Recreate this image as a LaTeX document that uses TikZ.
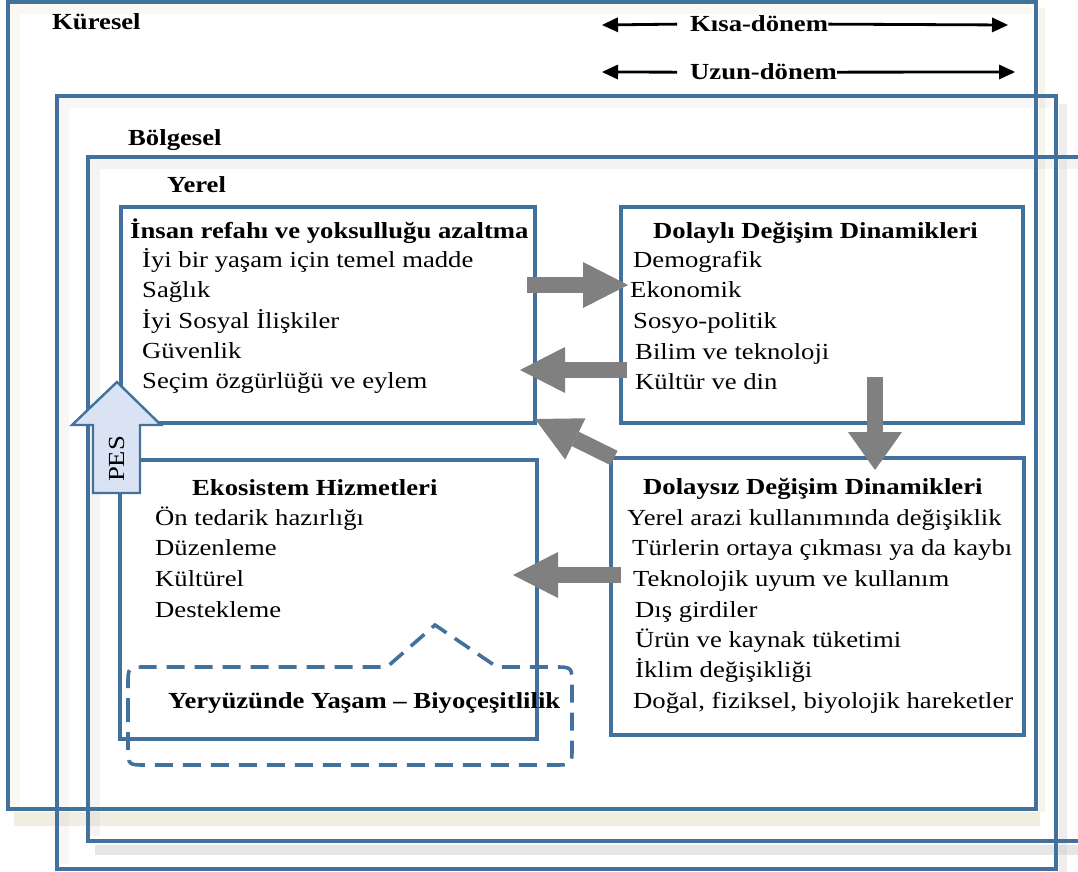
\documentclass[tikz,border=0pt]{standalone}
\usepackage{fontspec}
\setmainfont{Liberation Serif}[FakeStretch=1.16]
\usepackage{tikz}
\usetikzlibrary{arrows.meta}
\definecolor{frameblue}{RGB}{65,113,156}
\definecolor{arrgray}{RGB}{128,128,128}
\definecolor{pesfill}{RGB}{218,227,243}
\definecolor{shadebeige}{RGB}{226,221,196}
\definecolor{shadegray}{RGB}{200,200,200}

\begin{document}
\fontsize{23}{28}\selectfont
\begin{tikzpicture}[x=1pt,y=-1pt,
    frame/.style={draw=frameblue,line width=3.6pt},
    box/.style={draw=frameblue,line width=3.6pt,inner sep=0pt},
    ttl/.style={font=\bfseries,anchor=base west,inner sep=0pt},
    itm/.style={anchor=base west,inner sep=0pt},
    blockarr/.style={draw=arrgray,line width=16pt,-{Triangle[length=45pt,width=46pt,line width=0pt]}},
    timearr/.style={draw=black,line width=2.8pt,-{Triangle[length=16pt,width=15pt,line width=0pt]}}]
  \useasboundingbox (0,0) rectangle (1078,872);
  % soft shadows
  \draw[shadebeige,line width=14pt,opacity=0.5] (14,819) -- (1040,819);
  \draw[shadebeige,line width=6pt,opacity=0.35] (1042,8) -- (1042,812);
  \draw[shadebeige,line width=10pt,opacity=0.2] (15,810) -- (15,9) -- (1031,9);
  \draw[shadegray,line width=10pt,opacity=0.15] (64,864) -- (64,103) -- (1051,103);
  \draw[shadegray,line width=10pt,opacity=0.2] (95,836) -- (95,164) -- (1078,164);
  \draw[shadegray,line width=10pt,opacity=0.45] (95,850) -- (1078,850);
  \draw[shadegray,line width=8pt,opacity=0.3] (1063,104) -- (1063,872);
  % frames
  \draw[frame] (8,2) rectangle (1036,809);
  \draw[frame] (57,96) rectangle (1056,869);
  \draw[frame] (88,157) rectangle (1085,841);
  \node[ttl] (kur) at (52,30) {Küresel};
  \node[ttl] (bol) at (128,145) {Bölgesel};
  \node[ttl] (yer) at (167,192) {Yerel};
  \node[ttl] (kisa) at (690,32) {Kısa-dönem};
  \node[ttl] (uzun) at (690,80) {Uzun-dönem};
  \coordinate (kisaL) at (602,25);
  \coordinate (kisaR) at (1008,25);
  \coordinate (uzunL) at (602,72);
  \coordinate (uzunR) at (1015,72);
  \draw[timearr] ([xshift=-13pt]kisa.west) -- (kisaL);
  \draw[timearr] (kisa.east) -- (kisaR);
  \draw[timearr] ([xshift=-13pt]uzun.west) -- (uzunL);
  \draw[timearr] (uzun.east) -- (uzunR);
  % boxes
  \node[box,minimum width=414,minimum height=216] (refah) at (328,315) {};
  \node[box,minimum width=402,minimum height=216] (dolayli) at (822,315) {};
  \node[box,minimum width=417,minimum height=279] (eko) at (328.5,599.5) {};
  \node[box,minimum width=413,minimum height=277] (dolaysiz) at (817.5,596.5) {};
  \node[ttl] (r0) at (130,238) {İnsan refahı ve yoksulluğu azaltma};
  \node[itm] (r1) at (142,267) {İyi bir yaşam için temel madde};
  \node[itm] (r2) at (142,297) {Sağlık};
  \node[itm] (r3) at (142,328) {İyi Sosyal İlişkiler};
  \node[itm] (r4) at (142,358) {Güvenlik};
  \node[itm] (r5) at (142,388) {Seçim özgürlüğü ve eylem};
  \node[ttl] (d0) at (653,238) {Dolaylı Değişim Dinamikleri};
  \node[itm] (d1) at (633,267) {Demografik};
  \node[itm] (d2) at (630,297) {Ekonomik};
  \node[itm] (d3) at (633,328) {Sosyo-politik};
  \node[itm] (d4) at (635,359) {Bilim ve teknoloji};
  \node[itm] (d5) at (635,389) {Kültür ve din};
  \node[ttl] (e0) at (192,495) {Ekosistem Hizmetleri};
  \node[itm] (e1) at (155,525) {Ön tedarik hazırlığı};
  \node[itm] (e2) at (155,555) {Düzenleme};
  \node[itm] (e3) at (155,586) {Kültürel};
  \node[itm] (e4) at (155,617) {Destekleme};
  \node[ttl] (s0) at (643,494) {Dolaysız Değişim Dinamikleri};
  \node[itm] (s1) at (627,525) {Yerel arazi kullanımında değişiklik};
  \node[itm] (s2) at (632,555) {Türlerin ortaya çıkması ya da kaybı};
  \node[itm] (s3) at (633,586) {Teknolojik uyum ve kullanım};
  \node[itm] (s4) at (635,617) {Dış girdiler};
  \node[itm] (s5) at (635,647) {Ürün ve kaynak tüketimi};
  \node[itm] (s6) at (635,677) {İklim değişikliği};
  \node[itm] (s7) at (633,708) {Doğal, fiziksel, biyolojik hareketler};
  % biodiversity
  \draw[draw=frameblue,line width=3.6pt,dash pattern=on 18pt off 10pt]
    (128,716) -- (128,685) .. controls (128,667) .. (146,667) -- (387,667) -- (435,625)
    -- (497,667) -- (554,667) .. controls (572,667) .. (572,685) -- (572,747)
    .. controls (572,765) .. (554,765) -- (146,765) .. controls (128,765) .. (128,747) -- cycle;
  \node[ttl] (bio) at (168,708) {Yeryüzünde Yaşam – Biyoçeşitlilik};
  % gray arrows
  \coordinate (a1s) at (527,285);
  \coordinate (a1e) at (628,285);
  \coordinate (a2s) at (627,370);
  \coordinate (a2e) at (520,370);
  \coordinate (a3s) at (875,377);
  \coordinate (a3e) at (875,470);
  \coordinate (a4s) at (614,458);
  \coordinate (a4e) at (535,419);
  \coordinate (a5s) at (621,575);
  \coordinate (a5e) at (513,575);
  \draw[blockarr] (a1s) -- (a1e);
  \draw[blockarr] (a2s) -- (a2e);
  \draw[blockarr,-{Triangle[length=38pt,width=54pt,line width=0pt]}] (a3s) -- (a3e);
  \draw[blockarr] (a4s) -- (a4e);
  \draw[blockarr] (a5s) -- (a5e);
  % PES
  \draw[draw=frameblue,fill=pesfill,line width=2.4pt] (93,493) -- (93,425) -- (72,425) -- (117,382)
    -- (161,425) -- (140,425) -- (140,493) -- cycle;
  \node[rotate=90,inner sep=0pt] (pes) at (117,459) {PES};
\end{tikzpicture}
\end{document}
